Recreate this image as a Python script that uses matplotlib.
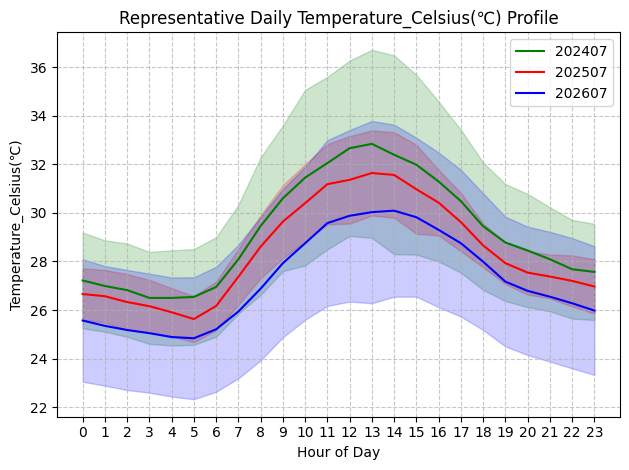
import numpy as np
import matplotlib
matplotlib.use("Agg")
import matplotlib.pyplot as plt

hours = list(range(24))

mean_202407 = [27.22, 26.99, 26.82, 26.50, 26.50, 26.54, 26.95, 28.09, 29.46, 30.60, 31.45, 32.05,
               32.66, 32.84, 32.39, 31.98, 31.29, 30.48, 29.45, 28.78, 28.45, 28.09, 27.68, 27.57]
std_202407 = [1.97, 1.88, 1.92, 1.89, 1.96, 1.97, 2.05, 2.24, 2.83, 3.00, 3.61, 3.55,
              3.61, 3.87, 4.09, 3.70, 3.29, 2.94, 2.62, 2.41, 2.33, 2.14, 2.03, 1.98]

mean_202507 = [26.66, 26.57, 26.33, 26.16, 25.91, 25.63, 26.17, 27.37, 28.61, 29.64, 30.40, 31.18,
               31.36, 31.64, 31.56, 30.97, 30.42, 29.62, 28.66, 27.93, 27.54, 27.38, 27.20, 26.97]
std_202507 = [1.06, 1.08, 1.15, 1.08, 0.99, 0.95, 1.00, 1.15, 1.30, 1.50, 1.60, 1.65,
              1.80, 1.75, 1.76, 1.83, 1.35, 1.20, 0.90, 0.86, 0.90, 0.90, 1.05, 1.12]

mean_202607 = [25.57, 25.35, 25.18, 25.05, 24.89, 24.84, 25.21, 25.94, 26.88, 27.93, 28.75, 29.58,
               29.88, 30.03, 30.09, 29.82, 29.30, 28.75, 27.99, 27.17, 26.79, 26.55, 26.28, 25.98]
std_202607 = [2.52, 2.46, 2.47, 2.45, 2.45, 2.51, 2.57, 2.75, 2.95, 3.05, 3.15, 3.41,
              3.53, 3.75, 3.54, 3.27, 3.18, 3.02, 2.81, 2.67, 2.64, 2.67, 2.68, 2.65]

series = [
    ("202407", mean_202407, std_202407, "green"),
    ("202507", mean_202507, std_202507, "red"),
    ("202607", mean_202607, std_202607, "blue"),
]

fig, ax = plt.subplots(figsize=(6.4, 4.8), dpi=100)

for label, mean, std, color in series:
    mean = np.array(mean)
    std = np.array(std)
    ax.plot(hours, mean, color=color, label=label)
    ax.fill_between(hours, mean - std, mean + std, color=color, alpha=0.2)

ax.set_title("Representative Daily Temperature_Celsius(℃) Profile")
ax.set_xlabel("Hour of Day")
ax.set_ylabel("Temperature_Celsius(℃)")
ax.set_xticks(hours)
ax.grid(True, linestyle="--", alpha=0.7)
ax.legend(loc="upper right")

fig.tight_layout()
fig.savefig("out.png", bbox_inches="tight")
